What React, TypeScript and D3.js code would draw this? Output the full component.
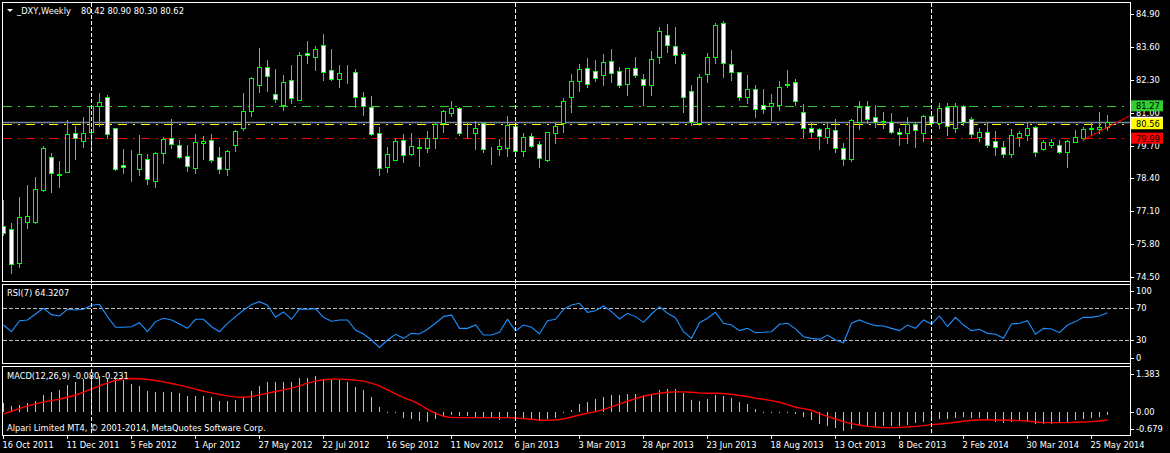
import React, { useEffect, useRef } from "react";
import * as d3 from "d3";

// weekly _DXY bars, first bar = week of 16 Oct 2011
const opens = [
  76.53, 76.39, 75.04, 76.69, 76.69, 77.94, 79.24, 78.52, 78.66, 80.18, 79.89, 80.25, 81.27, 81.61, 80.38, 78.92, 79.0, 78.78, 79.17, 78.31,
  79.42, 79.99, 79.71, 79.27, 78.82, 79.79, 79.91, 79.24, 78.76, 79.71, 80.41, 81.08, 82.11, 82.79, 81.72, 81.31, 82.28, 81.51, 83.35, 83.21,
  83.66, 82.67, 82.32, 82.56, 82.6, 81.61, 81.21, 80.18, 78.84, 79.13, 79.91, 79.35, 79.63, 79.59, 79.99, 80.58, 80.97, 81.2, 80.22, 80.18,
  80.58, 79.56, 79.57, 79.61, 80.47, 79.48, 80.08, 79.76, 79.14, 80.18, 80.58, 81.61, 82.26, 82.75, 82.63, 82.48, 83.03, 82.63, 82.12, 82.75,
  82.32, 82.08, 83.19, 84.06, 83.62, 83.31, 81.84, 80.58, 82.52, 83.19, 84.53, 82.91, 82.6, 81.61, 81.92, 81.29, 81.26, 81.31, 82.1, 82.2,
  81.01, 80.38, 80.34, 80.05, 80.3, 79.59, 79.18, 80.64, 81.25, 80.82, 80.63, 80.62, 80.22, 80.18, 80.54, 80.21, 80.87, 80.6, 81.21, 80.38,
  81.25, 80.74, 80.05, 80.22, 79.87, 79.65, 79.36, 80.05, 80.13, 80.42, 79.57, 79.72, 79.71, 79.46, 79.85, 80.01, 80.37, 80.34, 80.42,
];
const highs = [
  77.55, 76.62, 77.68, 78.14, 78.44, 79.68, 79.39, 79.09, 80.71, 80.47, 80.84, 81.3, 81.76, 81.7, 80.4, 79.56, 79.52, 80.12, 79.36, 79.44,
  80.02, 80.75, 79.92, 79.72, 80.16, 80.08, 80.16, 79.64, 79.52, 80.31, 81.79, 82.42, 83.57, 83.08, 82.73, 82.49, 82.88, 83.41, 83.83, 83.64,
  84.11, 83.52, 82.88, 82.88, 82.71, 81.83, 81.66, 80.44, 79.65, 79.99, 80.16, 80.18, 79.96, 80.27, 80.58, 81.1, 81.46, 81.21, 80.6, 80.67,
  80.6, 79.65, 79.95, 80.87, 80.64, 80.18, 80.18, 79.89, 80.25, 80.64, 81.57, 82.53, 82.92, 83.17, 83.08, 83.32, 83.52, 82.82, 82.77, 83.2,
  82.52, 83.44, 84.4, 84.51, 84.37, 83.41, 82.09, 82.53, 83.35, 84.53, 84.62, 83.48, 82.62, 82.49, 82.09, 81.92, 81.74, 82.25, 82.69, 82.32,
  81.34, 80.62, 80.38, 80.58, 80.74, 79.79, 80.74, 81.46, 81.46, 81.3, 81.04, 80.97, 80.38, 80.84, 80.64, 80.91, 80.97, 81.37, 81.39, 81.37,
  81.3, 80.84, 80.38, 80.64, 80.27, 79.89, 80.35, 80.29, 80.6, 80.47, 79.92, 79.95, 79.92, 79.92, 80.31, 80.44, 80.58, 81.04, 80.9,
];
const lows = [
  76.16, 74.67, 74.91, 76.45, 76.65, 77.91, 77.87, 78.07, 78.64, 79.17, 79.65, 79.48, 80.48, 79.99, 78.73, 78.6, 78.31, 78.53, 78.18, 78.07,
  79.02, 79.61, 79.2, 78.7, 78.63, 79.17, 79.06, 78.63, 78.53, 79.5, 80.33, 80.88, 81.83, 81.87, 81.43, 81.1, 81.39, 81.49, 82.98, 82.69,
  82.29, 82.29, 82.03, 82.18, 81.21, 80.91, 80.12, 78.53, 78.66, 79.12, 79.06, 79.33, 78.9, 79.43, 79.61, 80.25, 80.88, 80.12, 79.99, 79.55,
  79.46, 78.97, 79.33, 79.29, 79.39, 79.29, 79.63, 78.86, 79.1, 79.81, 80.25, 81.04, 81.87, 82.02, 82.26, 82.09, 82.22, 82.02, 81.7, 82.4,
  81.3, 81.7, 82.95, 83.41, 82.95, 81.04, 80.51, 80.51, 82.22, 82.95, 82.4, 82.29, 81.5, 81.39, 80.84, 80.99, 80.71, 81.09, 82.0, 81.3,
  79.99, 80.05, 79.56, 79.79, 79.46, 78.93, 79.1, 80.34, 80.58, 80.42, 80.38, 80.18, 79.72, 79.79, 79.65, 79.89, 80.51, 80.38, 80.12, 80.25,
  80.51, 80.05, 79.89, 79.63, 79.34, 79.23, 79.26, 79.68, 79.92, 79.29, 79.52, 79.63, 79.39, 78.86, 79.83, 79.92, 80.12, 80.18, 80.3,
];
const closes = [
  76.24, 75.0, 76.89, 76.91, 77.97, 79.59, 78.63, 78.57, 80.14, 79.99, 80.18, 81.26, 81.43, 80.14, 78.76, 78.84, 79.01, 79.36, 78.36, 79.39,
  79.96, 79.75, 79.26, 78.9, 79.83, 79.88, 79.12, 78.76, 79.48, 80.26, 81.06, 82.36, 82.79, 82.44, 81.55, 82.2, 81.57, 83.27, 83.27, 83.52,
  82.6, 82.32, 82.56, 82.57, 81.61, 81.26, 80.14, 78.8, 79.35, 79.88, 79.31, 79.67, 79.62, 79.99, 80.55, 81.07, 81.17, 80.18, 80.23, 80.38,
  79.55, 79.57, 79.68, 80.5, 79.5, 80.02, 79.68, 79.2, 80.22, 80.47, 81.46, 82.25, 82.71, 82.12, 82.36, 82.99, 82.56, 82.08, 82.75, 82.48,
  82.08, 83.11, 84.22, 83.66, 83.27, 81.63, 80.62, 82.4, 83.19, 84.45, 82.95, 82.6, 81.63, 81.92, 81.13, 81.16, 81.37, 82.01, 82.12, 81.47,
  80.4, 80.25, 80.09, 80.38, 79.59, 79.18, 80.7, 81.21, 80.76, 80.62, 80.65, 80.22, 80.14, 80.55, 80.31, 80.87, 80.58, 81.17, 80.47, 81.26,
  80.64, 80.14, 80.22, 79.72, 79.65, 79.36, 80.1, 80.18, 80.39, 79.46, 79.84, 79.83, 79.46, 79.88, 80.02, 80.35, 80.39, 80.44, 80.62,
];

// RSI(7)
const rsiValues = [
  48.9, 40.5, 54.4, 55.3, 62.8, 70.0, 62.0, 60.3, 68.7, 67.9, 68.7, 73.8, 75.0, 59.5, 46.0, 46.0, 46.8, 51.9, 40.5, 53.2,
  57.4, 55.3, 50.2, 44.7, 56.1, 56.1, 46.8, 40.5, 51.1, 59.5, 67.9, 74.6, 78.4, 73.8, 58.6, 65.4, 56.1, 69.2, 68.7, 69.6,
  58.6, 53.6, 55.3, 55.3, 42.6, 37.6, 30.0, 20.7, 30.0, 37.2, 32.1, 38.4, 37.6, 43.5, 51.1, 59.5, 61.6, 44.7, 44.7, 48.9,
  36.3, 36.3, 39.7, 56.1, 41.4, 48.9, 46.0, 37.6, 54.4, 56.1, 68.7, 74.2, 76.3, 64.9, 67.0, 72.9, 65.8, 56.5, 63.7, 59.5,
  52.3, 62.8, 72.1, 63.7, 58.2, 40.5, 32.1, 51.9, 57.4, 64.9, 51.1, 48.9, 41.8, 44.7, 39.3, 39.7, 40.5, 49.8, 51.1, 44.0,
  34.2, 32.1, 30.8, 36.3, 30.0, 26.6, 51.1, 55.3, 51.1, 48.1, 47.7, 44.7, 41.8, 48.9, 44.7, 55.3, 50.2, 60.3, 46.8, 58.6,
  48.9, 41.8, 43.5, 38.4, 37.2, 32.1, 50.2, 51.1, 54.4, 37.2, 44.7, 43.9, 39.3, 48.9, 53.2, 58.6, 58.6, 60.3, 64.3207,
];

// MACD(12,26,9) main (histogram) and signal
const macdValues = [
  0.29, 0.19, 0.22, 0.27, 0.35, 0.52, 0.6, 0.67, 0.81, 0.91, 0.98, 1.02, 1.07, 1.0, 0.99, 0.95, 0.84, 0.79, 0.65, 0.62,
  0.62, 0.6, 0.57, 0.49, 0.49, 0.49, 0.47, 0.34, 0.34, 0.37, 0.42, 0.65, 0.79, 0.89, 0.89, 0.91, 0.89, 1.01, 1.02, 1.07,
  0.99, 0.95, 0.95, 0.89, 0.77, 0.67, 0.45, 0.17, 0.02, 0.02, -0.18, -0.21, -0.26, -0.28, -0.21, -0.13, -0.08, -0.11, -0.11, -0.13,
  -0.16, -0.18, -0.23, -0.16, -0.15, -0.18, -0.21, -0.25, -0.21, -0.16, -0.03, 0.07, 0.25, 0.3, 0.39, 0.47, 0.51, 0.52, 0.54, 0.54,
  0.51, 0.55, 0.67, 0.7, 0.7, 0.57, 0.37, 0.34, 0.4, 0.52, 0.49, 0.42, 0.3, 0.25, 0.1, 0.01, 0.01, 0.01, 0.0, -0.04,
  -0.14, -0.24, -0.34, -0.42, -0.47, -0.56, -0.49, -0.42, -0.4, -0.4, -0.4, -0.4, -0.41, -0.38, -0.32, -0.3, -0.26, -0.19, -0.19, -0.16,
  -0.14, -0.16, -0.17, -0.19, -0.29, -0.32, -0.29, -0.26, -0.29, -0.36, -0.36, -0.36, -0.32, -0.29, -0.24, -0.19, -0.16, -0.14, -0.08,
];
const signalValues = [
  -0.05, 0.03, 0.11, 0.19, 0.25, 0.31, 0.35, 0.39, 0.45, 0.51, 0.6, 0.7, 0.79, 0.88, 0.95, 1.0, 1.01, 1.0, 0.98, 0.95,
  0.91, 0.86, 0.81, 0.75, 0.69, 0.63, 0.58, 0.53, 0.49, 0.46, 0.45, 0.47, 0.52, 0.57, 0.62, 0.67, 0.72, 0.79, 0.87, 0.93,
  0.97, 0.99, 0.99, 0.98, 0.96, 0.93, 0.87, 0.79, 0.67, 0.55, 0.44, 0.35, 0.24, 0.09, -0.03, -0.12, -0.16, -0.16, -0.16, -0.16,
  -0.16, -0.16, -0.16, -0.16, -0.17, -0.19, -0.21, -0.24, -0.24, -0.23, -0.2, -0.14, -0.08, -0.03, 0.02, 0.08, 0.16, 0.25, 0.33, 0.41,
  0.48, 0.53, 0.57, 0.6, 0.61, 0.61, 0.6, 0.58, 0.57, 0.57, 0.56, 0.54, 0.5, 0.47, 0.42, 0.39, 0.35, 0.3, 0.23, 0.15,
  0.11, 0.06, -0.04, -0.12, -0.2, -0.28, -0.34, -0.38, -0.42, -0.44, -0.46, -0.46, -0.45, -0.44, -0.42, -0.4, -0.37, -0.35, -0.33, -0.3,
  -0.27, -0.24, -0.23, -0.22, -0.23, -0.24, -0.24, -0.25, -0.26, -0.29, -0.31, -0.31, -0.31, -0.31, -0.3, -0.29, -0.28, -0.26, -0.231,
];

// bottom axis labels, one every 8 bars
const dateLabels = [
  "16 Oct 2011", "11 Dec 2011", "5 Feb 2012", "1 Apr 2012", "27 May 2012", "22 Jul 2012", "16 Sep 2012", "11 Nov 2012", "6 Jan 2013",
  "3 Mar 2013", "28 Apr 2013", "23 Jun 2013", "18 Aug 2013", "13 Oct 2013", "8 Dec 2013", "2 Feb 2014", "30 Mar 2014", "25 May 2014",
];
const yearStartBars = [11, 64, 116];
const priceTicks = [84.9, 83.6, 82.3, 81.0, 79.7, 78.4, 77.1, 75.8, 74.5];
const rsiTicks = [100, 70, 30, 0];
const macdTicks = [1.383, 0.0, -0.679];
const levelValues = [81.27, 80.56, 79.99];
const trendPoints = [
  [135, 79.92],
  [141, 80.9],
];

const FONT = "DejaVu Sans";

const App = () => {
  const svgRef = useRef(null);

  useEffect(() => {
    document.body.style.margin = "0";
    document.body.style.background = "#000";

    const svg = d3.select(svgRef.current);
    svg.selectAll("*").remove();

    const width = 1170;
    const height = 453;
    const plotLeft = 2.5;
    const plotRight = 1130.5;
    const n = closes.length;

    svg.attr("width", width).attr("height", height).style("display", "block").style("background", "#000");

    const x = d3.scaleLinear().domain([0, n - 1]).range([3, 3 + 8 * (n - 1)]);
    const yPrice = d3.scaleLinear().domain([74.5, 84.9]).range([277, 14]);
    const yRsi = d3.scaleLinear().domain([0, 100]).range([363.8, 284.5]);
    const yMacd = d3.scaleLinear().domain([-0.679, 1.383]).range([435, 366]);

    const defs = svg.append("defs");
    const clips = [
      ["clipMain", 3, 282],
      ["clipRsi", 285, 363],
      ["clipMacd", 367, 435],
    ];
    clips.forEach(([id, top, bottom]) => {
      defs
        .append("clipPath")
        .attr("id", id)
        .append("rect")
        .attr("x", 3)
        .attr("y", top)
        .attr("width", 1127)
        .attr("height", bottom - top);
    });

    // panel frames
    const panels = [
      [2.5, 281.5],
      [284.5, 363.5],
      [366.5, 435.5],
    ];
    panels.forEach(([t, b]) => {
      svg
        .append("rect")
        .attr("x", plotLeft)
        .attr("y", t)
        .attr("width", plotRight - plotLeft)
        .attr("height", b - t)
        .attr("fill", "none")
        .attr("stroke", "#fff")
        .attr("shape-rendering", "crispEdges");
    });

    // ---- main panel ----
    const main = svg.append("g").attr("clip-path", "url(#clipMain)");
    const py = (v) => Math.round(yPrice(v));

    // horizontal levels
    const levelColors = ["#32cd32", "#ffff00", "#ff0000"];
    main
      .append("line")
      .attr("x1", 3)
      .attr("x2", plotRight)
      .attr("y1", py(closes[n - 1]) + 0.5)
      .attr("y2", py(closes[n - 1]) + 0.5)
      .attr("stroke", "#778899")
      .attr("stroke-width", 1.3);
    levelValues.forEach((v, i) => {
      main
        .append("line")
        .attr("x1", 3)
        .attr("x2", plotRight)
        .attr("y1", py(v) + 0.5)
        .attr("y2", py(v) + 0.5)
        .attr("stroke", levelColors[i])
        .attr("stroke-width", 1.2)
        .attr("stroke-dasharray", "9,6,2,6");
    });

    // candles
    const candles = main
      .selectAll(".candle")
      .data(closes.map((c, i) => ({ i, o: opens[i], h: highs[i], l: lows[i], c })))
      .enter()
      .append("g")
      .attr("class", "candle")
      .attr("shape-rendering", "crispEdges");

    candles
      .append("line")
      .attr("x1", (d) => x(d.i) + 0.5)
      .attr("x2", (d) => x(d.i) + 0.5)
      .attr("y1", (d) => py(d.h))
      .attr("y2", (d) => py(d.l) + 1)
      .attr("stroke", "#00ff00");

    candles
      .append("rect")
      .attr("x", (d) => x(d.i) - 1.5)
      .attr("y", (d) => Math.min(py(d.o), py(d.c)) + 0.5)
      .attr("width", 4)
      .attr("height", (d) => Math.abs(py(d.o) - py(d.c)))
      .attr("fill", (d) => (d.c >= d.o ? "#000" : "#fff"))
      .attr("stroke", "#00ff00");

    // trend line
    main
      .append("line")
      .attr("x1", x(trendPoints[0][0]))
      .attr("y1", yPrice(trendPoints[0][1]))
      .attr("x2", x(trendPoints[1][0]))
      .attr("y2", yPrice(trendPoints[1][1]))
      .attr("stroke", "#ff0000")
      .attr("stroke-width", 1.3)
      .attr("stroke-dasharray", "3,1");

    // ---- RSI panel ----
    const rsiG = svg.append("g").attr("clip-path", "url(#clipRsi)");
    [70, 30].forEach((lv) => {
      rsiG
        .append("line")
        .attr("x1", 3)
        .attr("x2", plotRight)
        .attr("y1", Math.round(yRsi(lv)) + 0.5)
        .attr("y2", Math.round(yRsi(lv)) + 0.5)
        .attr("stroke", "#c0c0c0")
        .attr("stroke-dasharray", "4,2")
        .attr("shape-rendering", "crispEdges");
    });
    rsiG
      .append("path")
      .datum(rsiValues)
      .attr("fill", "none")
      .attr("stroke", "#1e90ff")
      .attr("stroke-width", 1.1)
      .attr(
        "d",
        d3
          .line()
          .x((d, i) => x(i) + 0.5)
          .y((d) => yRsi(d))
      );

    // ---- MACD panel ----
    const macdG = svg.append("g").attr("clip-path", "url(#clipMacd)");
    const zeroY = Math.round(yMacd(0));
    macdG
      .selectAll(".hist")
      .data(macdValues)
      .enter()
      .append("line")
      .attr("class", "hist")
      .attr("x1", (d, i) => x(i) + 0.5)
      .attr("x2", (d, i) => x(i) + 0.5)
      .attr("y1", zeroY)
      .attr("y2", (d) => {
        const yy = Math.round(yMacd(d));
        return Math.abs(yy - zeroY) < 1 ? zeroY + 1 : yy;
      })
      .attr("stroke", "#c0c0c0")
      .attr("stroke-width", 1.2)
      .attr("shape-rendering", "crispEdges");
    macdG
      .append("path")
      .datum(signalValues)
      .attr("fill", "none")
      .attr("stroke", "#ff0000")
      .attr("stroke-width", 1.4)
      .attr(
        "d",
        d3
          .line()
          .x((d, i) => x(i) + 0.5)
          .y((d) => yMacd(d))
      );

    // period separators
    yearStartBars.forEach((b) => {
      svg
        .append("line")
        .attr("x1", x(b) + 0.5)
        .attr("x2", x(b) + 0.5)
        .attr("y1", 3)
        .attr("y2", 435)
        .attr("stroke", "#fff")
        .attr("stroke-dasharray", "4,2")
        .attr("shape-rendering", "crispEdges");
    });

    // ---- texts ----
    const text = (tx, ty, str, fill = "#fff") =>
      svg
        .append("text")
        .attr("x", tx)
        .attr("y", ty)
        .attr("font-family", FONT)
        .attr("font-size", 8.3)
        .attr("fill", fill)
        .text(str);

    svg.append("path").attr("d", "M7,9 L13,9 L10,12 Z").attr("fill", "#fff");
    text(17, 14, "_DXY,Weekly");
    text(81, 14, `${opens[n - 1].toFixed(2)} ${highs[n - 1].toFixed(2)} ${lows[n - 1].toFixed(2)} ${closes[n - 1].toFixed(2)}`);
    text(7, 296, `RSI(7) ${rsiValues[n - 1].toFixed(4)}`);
    text(7, 379, `MACD(12,26,9) ${macdValues[n - 1].toFixed(3)} ${signalValues[n - 1].toFixed(3)}`);
    text(7, 430.5, "Alpari Limited MT4, \u00a9 2001-2014, MetaQuotes Software Corp.");

    // right axis ticks
    const rightTick = (cy, label) => {
      svg
        .append("line")
        .attr("x1", 1131)
        .attr("x2", 1134)
        .attr("y1", Math.round(cy) + 0.5)
        .attr("y2", Math.round(cy) + 0.5)
        .attr("stroke", "#fff")
        .attr("shape-rendering", "crispEdges");
      text(1136, cy + 3, label);
    };
    priceTicks.forEach((v) => rightTick(yPrice(v), v.toFixed(2)));
    rsiTicks.forEach((v) => {
      let cy = yRsi(v);
      if (v === 100) cy += 6;
      if (v === 0) cy -= 6;
      rightTick(cy, String(v));
    });
    macdTicks.forEach((v, i) => {
      let cy = yMacd(v);
      if (i === 0) cy += 7.5;
      if (i === 2) cy -= 6.5;
      rightTick(cy, v === 0 ? "0.00" : String(v));
    });

    // price boxes on right axis
    const box = (v, bg) => {
      const cy = yPrice(v);
      svg
        .append("rect")
        .attr("x", 1131)
        .attr("y", cy - 5.5)
        .attr("width", 32)
        .attr("height", 11)
        .attr("fill", bg);
      text(1136, cy + 3.5, v.toFixed(2), "#000");
    };
    box(closes[n - 1], "#fff");
    box(levelValues[0], "#32cd32");
    box(levelValues[1], "#ffff00");
    box(levelValues[2], "#ff0000");

    // right axis line
    svg
      .append("line")
      .attr("x1", plotRight)
      .attr("x2", plotRight)
      .attr("y1", 2.5)
      .attr("y2", 435.5)
      .attr("stroke", "#fff")
      .attr("shape-rendering", "crispEdges");

    // bottom date axis
    dateLabels.forEach((lbl, k) => {
      const bx = x(k * 8);
      svg
        .append("line")
        .attr("x1", bx + 0.5)
        .attr("x2", bx + 0.5)
        .attr("y1", 435.5)
        .attr("y2", 439)
        .attr("stroke", "#fff")
        .attr("shape-rendering", "crispEdges");
      text(bx - 0.5, 447.5, lbl);
    });
  }, []);

  return <svg ref={svgRef}></svg>;
};

export default App;
